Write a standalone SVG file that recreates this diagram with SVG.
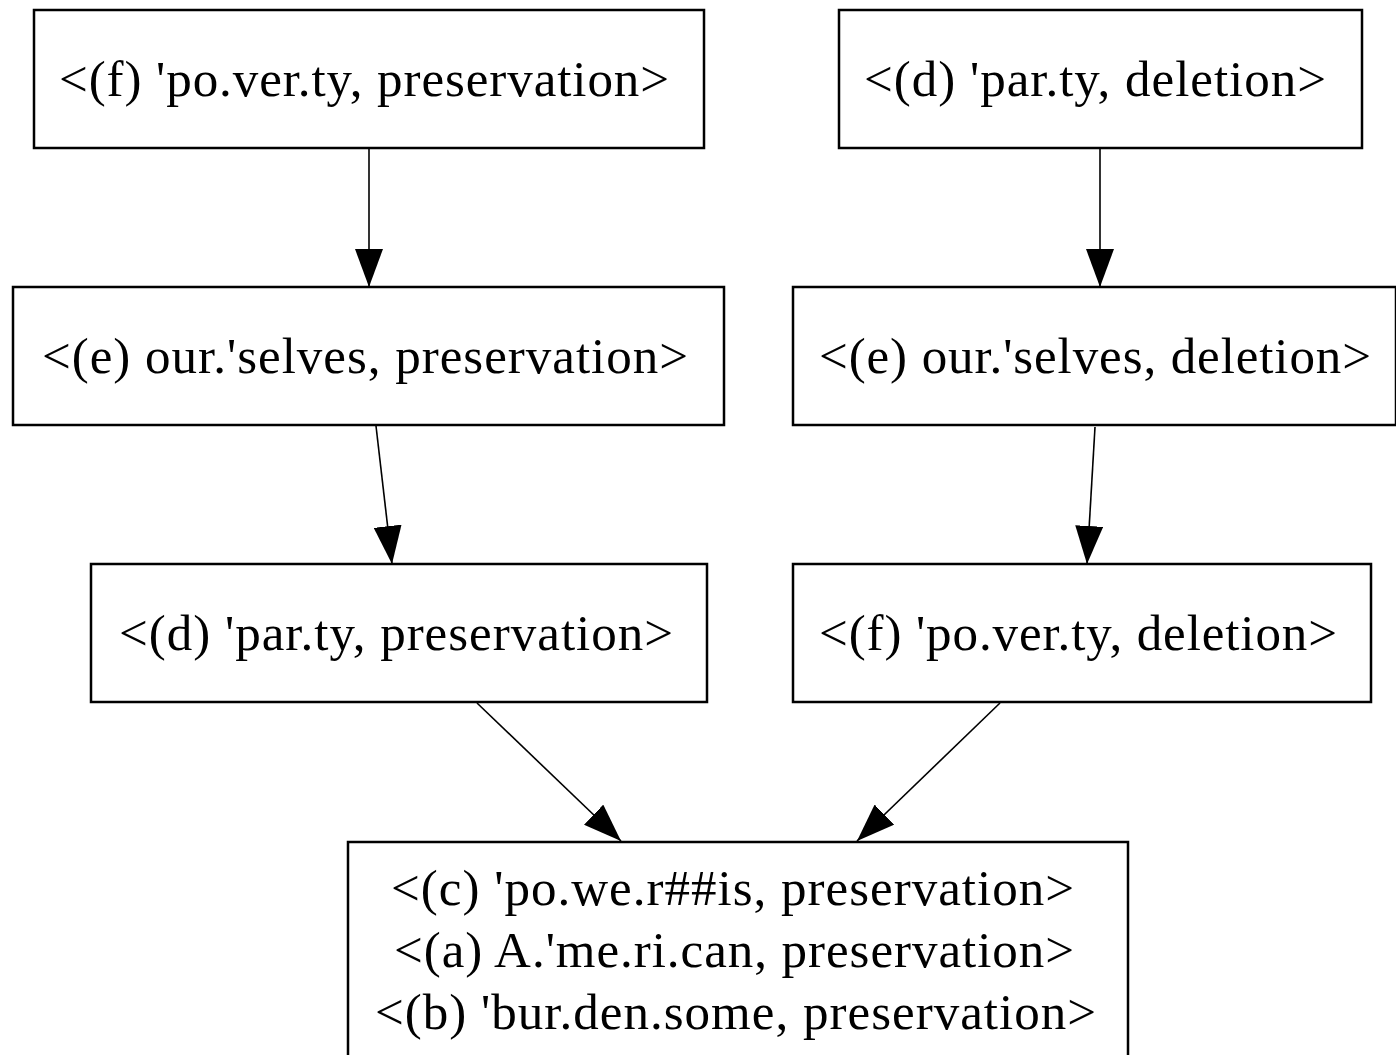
<svg xmlns="http://www.w3.org/2000/svg" width="1396" height="1055" viewBox="0 0 1396 1055">
<style>
.node rect{fill:#fff;stroke:#000;stroke-width:2.5}
.node text{font-family:"Liberation Serif","Times New Roman",serif;font-size:51px;fill:#000}
.edges path{fill:none;stroke:#000;stroke-width:1.6}
</style>
<defs>
<marker id="ah" markerUnits="userSpaceOnUse" viewBox="0 0 38 28" markerWidth="38" markerHeight="28" refX="38" refY="14" orient="auto">
<path d="M0,0 L38,14 L0,28 z" fill="#000"/>
</marker>
</defs>
<rect width="1396" height="1055" fill="#fff"/>
<g class="edges">
<path d="M369,149 L369,287" marker-end="url(#ah)"/>
<path d="M376,426 L392,564" marker-end="url(#ah)"/>
<path d="M1100,149 L1100,287" marker-end="url(#ah)"/>
<path d="M1095,427 L1087,564" marker-end="url(#ah)"/>
<path d="M477,703 L621,841" marker-end="url(#ah)"/>
<path d="M1000,703 L857,841" marker-end="url(#ah)"/>
</g>
<g class="node" id="n_f_pres"><rect x="34" y="10" width="670" height="138"/><text x="59" y="96" textLength="610">&lt;(f) 'po.ver.ty, preservation&gt;</text></g>
<g class="node" id="n_d_del"><rect x="839" y="10" width="523" height="138"/><text x="864" y="96" textLength="462">&lt;(d) 'par.ty, deletion&gt;</text></g>
<g class="node" id="n_e_pres"><rect x="13" y="287" width="711" height="138"/><text x="42" y="373" textLength="646">&lt;(e) our.'selves, preservation&gt;</text></g>
<g class="node" id="n_e_del"><rect x="793" y="287" width="603" height="138"/><text x="819" y="373" textLength="552">&lt;(e) our.'selves, deletion&gt;</text></g>
<g class="node" id="n_d_pres"><rect x="91" y="564" width="616" height="138"/><text x="119" y="650" textLength="554">&lt;(d) 'par.ty, preservation&gt;</text></g>
<g class="node" id="n_f_del"><rect x="793" y="564" width="578" height="138"/><text x="819" y="650" textLength="518">&lt;(f) 'po.ver.ty, deletion&gt;</text></g>
<g class="node" id="n_cab"><rect x="348" y="842" width="780" height="240"/>
<text x="391" y="905" textLength="683">&lt;(c) 'po.we.r##is, preservation&gt;</text>
<text x="394" y="967" textLength="680">&lt;(a) A.'me.ri.can, preservation&gt;</text>
<text x="375" y="1029" textLength="721">&lt;(b) 'bur.den.some, preservation&gt;</text>
</g>
</svg>
